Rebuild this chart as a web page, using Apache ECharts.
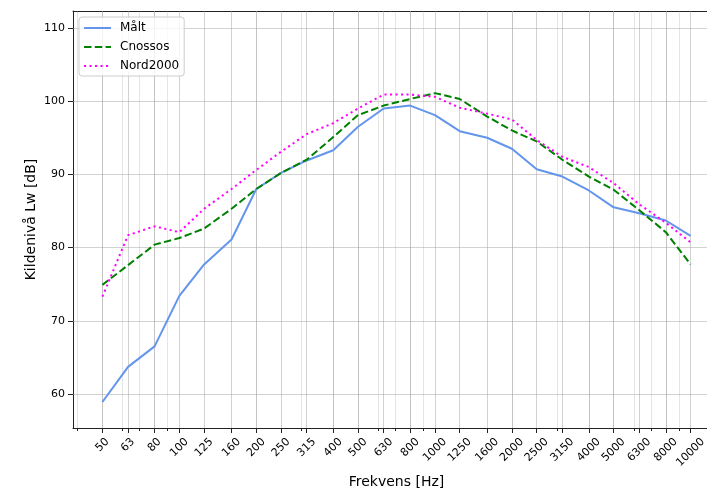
<!DOCTYPE html>
<html><head><meta charset="utf-8">
<script src="https://cdn.jsdelivr.net/npm/echarts@6/dist/echarts.min.js"></script>
<style>html,body{margin:0;padding:0;background:#fff}#c{width:707px;height:488px}</style>
</head><body><div id="c"></div>
<script>
const freqs = [50,63,80,100,125,160,200,250,315,400,500,630,800,1000,1250,1600,2000,2500,3150,4000,5000,6300,8000,10000];
const xTickLabels = ['50','63','80','100','125','160','200','250','315','400','500','630','800','1000','1250','1600','2000','2500','3150','4000','5000','6300','8000','10000'];
const maalt    = [58.9,63.7,66.5,73.4,77.7,81.1,88.0,90.2,91.9,93.3,96.5,99.0,99.4,98.1,95.9,95.0,93.5,90.7,89.7,87.8,85.5,84.7,83.7,81.6];
const cnossos  = [74.9,77.6,80.4,81.3,82.6,85.3,88.0,90.2,92.0,95.1,98.1,99.4,100.3,101.1,100.3,97.9,96.0,94.5,92.0,89.7,87.9,85.1,82.1,77.7];
const nord2000 = [73.3,81.7,82.9,82.1,85.3,88.0,90.6,93.1,95.5,97.0,99.0,100.9,100.9,100.6,99.1,98.3,97.5,94.7,92.4,91.0,88.8,85.9,83.4,80.7];
const minorFreqs = [40,50,60,70,80,90,200,300,400,500,600,700,800,900,2000,3000,4000,5000,6000,7000,8000,9000];
const yTicks = [60,70,80,90,100,110];
const xMin = 38.37, xMax = 13032, yMin = 55.35, yMax = 112.32;

const FONT = 'DejaVu Sans';
const pairs = arr => freqs.map((f, i) => [f, arr[i]]);

const rich = {};
[2,3,4,5].forEach(n => {
  const p = 3.5 * (n - 2);
  rich['s' + n] = { fontSize: 11, fontFamily: FONT, color: '#000', padding: [p, p, 0, 0] };
});

const majorGrid = 'rgba(160,160,160,0.48)';
const minorGrid = 'rgba(160,160,160,0.27)';
const gridLines = []
  .concat(minorFreqs.map(f => ({ xAxis: f, lineStyle: { color: minorGrid, width: 1, type: 'solid' } })))
  .concat(freqs.map(f => ({ xAxis: f, lineStyle: { color: majorGrid, width: 1, type: 'solid' } })))
  .concat(yTicks.map(v => ({ yAxis: v, lineStyle: { color: majorGrid, width: 1, type: 'solid' } })));

const chart = echarts.init(document.getElementById('c'), null, { renderer: 'canvas' });
const baseX = { type: 'log', logBase: 10, min: xMin, max: xMax, gridIndex: 0, splitLine: { show: false }, minorTick: { show: false }, minorSplitLine: { show: false } };
chart.setOption({
  animation: false,
  backgroundColor: '#fff',
  textStyle: { fontFamily: FONT },
  grid: { left: 73, top: 11, bottom: 60, right: -13, outerBoundsMode: 'none', containLabel: false },
  legend: {
    data: ['Målt', 'Cnossos', 'Nord2000'],
    orient: 'vertical', left: 79, top: 17,
    itemWidth: 27, itemHeight: 14, itemGap: 7,
    padding: [5, 5, 4, 4],
    borderColor: '#cccccc', borderWidth: 1, borderRadius: 3,
    backgroundColor: 'rgba(255,255,255,0.8)',
    itemStyle: { opacity: 0, borderWidth: 0 },
    textStyle: { fontSize: 12, fontFamily: FONT, color: '#000', padding: [0, 0, 0, 4] }
  },
  xAxis: [
    Object.assign({}, baseX, {
      position: 'bottom',
      name: 'Frekvens [Hz]', nameLocation: 'middle', nameGap: 47, nameMoveOverlap: false,
      nameTextStyle: { fontSize: 14, fontFamily: FONT, color: '#000' },
      axisLine: { show: true, onZero: false, lineStyle: { color: '#222', width: 1 } },
      axisTick: { show: true, customValues: freqs, length: 5, inside: false, lineStyle: { color: '#222', width: 1 } },
      axisLabel: {
        show: true, customValues: freqs, rotate: 45, margin: 17,
        align: 'center', verticalAlign: 'middle',
        fontSize: 11, fontFamily: FONT, color: '#000',
        formatter: v => {
          const i = freqs.indexOf(Math.round(v));
          const t = i >= 0 ? xTickLabels[i] : String(Math.round(v));
          return '{s' + t.length + '|' + t + '}';
        },
        rich: rich
      }
    }),
    Object.assign({}, baseX, {
      position: 'bottom',
      axisLine: { show: false },
      axisTick: { show: true, customValues: minorFreqs, length: 3, lineStyle: { color: '#222', width: 1 } },
      axisLabel: { show: false }
    }),
    Object.assign({}, baseX, {
      position: 'top',
      axisLine: { show: true, onZero: false, lineStyle: { color: '#222', width: 1 } },
      axisTick: { show: false },
      axisLabel: { show: false }
    })
  ],
  yAxis: {
    type: 'value', min: yMin, max: yMax,
    name: 'Kildenivå Lw [dB]', nameLocation: 'middle', nameGap: 35, nameMoveOverlap: false,
    nameTextStyle: { fontSize: 14, fontFamily: FONT, color: '#000' },
    axisLine: { show: true, onZero: false, lineStyle: { color: '#222', width: 1 } },
    axisTick: { show: true, customValues: yTicks, length: 5, lineStyle: { color: '#222', width: 1 } },
    axisLabel: { show: true, customValues: yTicks, margin: 8, fontSize: 11, fontFamily: FONT, color: '#000' },
    splitLine: { show: false }
  },
  series: [
    {
      name: '_grid', type: 'line', xAxisIndex: 0, data: [], z: 1, silent: true,
      markLine: { silent: true, z: 1, symbol: ['none', 'none'], label: { show: false }, emphasis: { disabled: true }, animation: false, data: gridLines }
    },
    {
      name: 'Målt', type: 'line', xAxisIndex: 0, data: pairs(maalt), symbol: 'none', showSymbol: false, z: 3,
      lineStyle: { color: '#6495ED', width: 2, type: 'solid' }, itemStyle: { color: '#6495ED' }
    },
    {
      name: 'Cnossos', type: 'line', xAxisIndex: 0, data: pairs(cnossos), symbol: 'none', showSymbol: false, z: 3,
      lineStyle: { color: '#008000', width: 2, type: [7.5, 3.3] }, itemStyle: { color: '#008000' }
    },
    {
      name: 'Nord2000', type: 'line', xAxisIndex: 0, data: pairs(nord2000), symbol: 'none', showSymbol: false, z: 3,
      lineStyle: { color: '#FF00FF', width: 2, type: [2.1, 3.4] }, itemStyle: { color: '#FF00FF' }
    }
  ]
});
</script></body></html>
